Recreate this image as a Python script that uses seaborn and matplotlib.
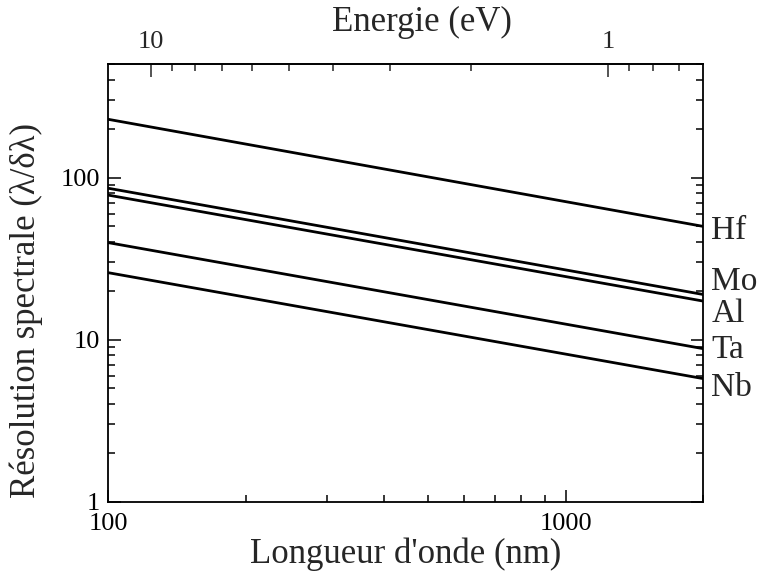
import numpy as np
import pandas as pd
import matplotlib
matplotlib.use("Agg")
import matplotlib.pyplot as plt
import matplotlib.ticker as mticker
import seaborn as sns

# ── data ──
wavelength_nm = [100, 2000]
materials = ['Hf', 'Mo', 'Al', 'Ta', 'Nb']
res_hf = [229, 50]
res_mo = [86, 19]
res_al = [78, 17.3]
res_ta = [39.7, 8.8]
res_nb = [25.9, 5.75]

series = dict(zip(materials, [res_hf, res_mo, res_al, res_ta, res_nb]))
df = pd.DataFrame([
    {'wl': w, 'res': r, 'mat': m}
    for m, vals in series.items()
    for w, r in zip(wavelength_nm, vals)
])

sns.set_theme(style="ticks")
plt.rcParams['font.family'] = ['Liberation Serif', 'DejaVu Serif']

fig = plt.figure(figsize=(7.59, 5.80), dpi=100)
ax = fig.add_axes([0.1427, 0.135, 0.7839, 0.754])

sns.lineplot(data=df, x='wl', y='res', hue='mat',
             palette=['black'] * len(materials), linewidth=2.0,
             legend=False, ax=ax)

ax.set_xscale('log')
ax.set_yscale('log')
ax.set_xlim(100, 2000)
ax.set_ylim(1, 500)

fmt = mticker.FuncFormatter(lambda v, p: f"{v:g}")
ax.xaxis.set_major_formatter(fmt)
ax.yaxis.set_major_formatter(fmt)
ax.xaxis.set_minor_formatter(mticker.NullFormatter())
ax.yaxis.set_minor_formatter(mticker.NullFormatter())

ax.tick_params(which='both', direction='in', top=False, right=True,
               labelsize=19, width=1.1, colors='black')
ax.tick_params(which='major', length=9)
ax.tick_params(which='minor', length=5)
ax.tick_params(axis='x', pad=8)
ax.tick_params(axis='y', pad=6)
for s in ax.spines.values():
    s.set_linewidth(1.3)
    s.set_color('black')

ax.set_xlabel("Longueur d'onde (nm)", fontsize=25)
ax.set_ylabel("Résolution spectrale (λ/δλ)", fontsize=25)
ax.xaxis.set_label_coords(0.5, -0.083)
ax.yaxis.set_label_coords(-0.11, 0.438)

# energy axis on top
secax = ax.secondary_xaxis('top', functions=(lambda x: 1240.0 / x,
                                             lambda x: 1240.0 / x))
secax.xaxis.set_major_locator(mticker.FixedLocator([10, 1]))
secax.xaxis.set_minor_locator(mticker.LogLocator(base=10, subs=np.arange(2, 10)))
secax.xaxis.set_major_formatter(fmt)
secax.xaxis.set_minor_formatter(mticker.NullFormatter())
secax.tick_params(which='both', direction='in', labelsize=19, width=1.1, pad=8)
secax.tick_params(which='major', length=9)
secax.tick_params(which='minor', length=5)
secax.spines['top'].set_linewidth(1.3)

# top axis title
fig.text(422 / 759, 1 - 22 / 580, "Energie (eV)", fontsize=25,
         ha='center', va='center')

# material labels at right end
label_dy = {'Hf': -4, 'Mo': 13, 'Al': -13, 'Ta': -1, 'Nb': -9}
for m, vals in series.items():
    ax.annotate(m, xy=(1.0, vals[-1]), xycoords=('axes fraction', 'data'),
                xytext=(8, label_dy[m]), textcoords='offset pixels',
                ha='left', va='center', fontsize=24, annotation_clip=False)

fig.savefig("out.png", dpi=100)
